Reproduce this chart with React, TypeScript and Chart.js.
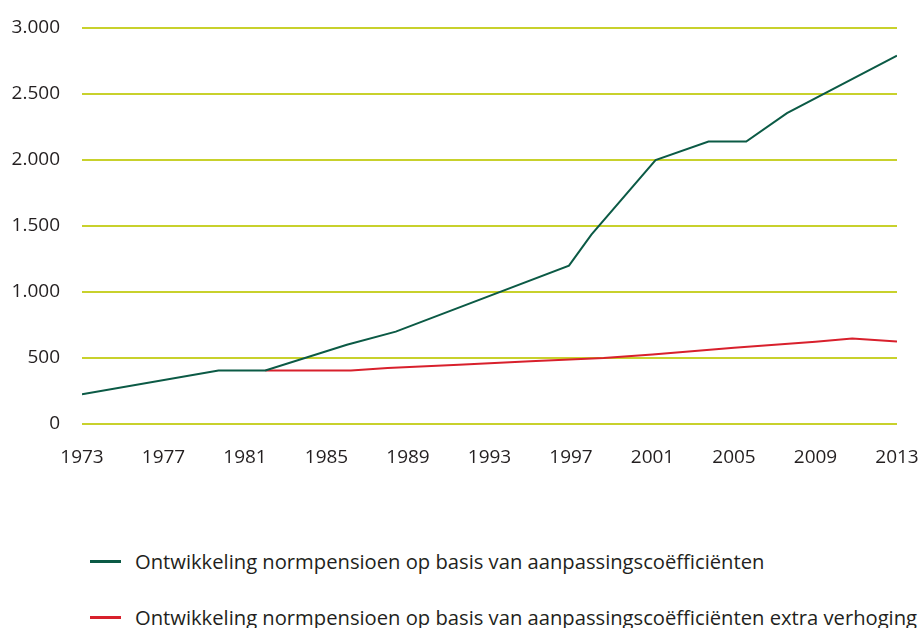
import React, { useEffect, useRef } from "react";
import { Chart, registerables } from "chart.js";

Chart.register(...registerables);

const greenYears = [1973, 1979.7, 1982, 1986, 1988.4, 1996.9, 1998, 2001.15, 2003.75, 2005.6, 2007.6, 2013];
const greenValues = [225, 405, 405, 600, 700, 1200, 1435, 2000, 2140, 2140, 2355, 2790];

const redYears = [1982, 1986.2, 1988, 1991.5, 1995, 1998.6, 2001, 2005, 2009, 2010.8, 2013];
const redValues = [405, 405, 425, 448, 475, 500, 527, 578, 624, 648, 625];

const xTicks = [1973, 1977, 1981, 1985, 1989, 1993, 1997, 2001, 2005, 2009, 2013];
const yTicks = [0, 500, 1000, 1500, 2000, 2500, 3000];

const seriesLabels = [
  "Ontwikkeling normpensioen op basis van aanpassingscoëfficiënten",
  "Ontwikkeling normpensioen op basis van aanpassingscoëfficiënten extra verhoging",
];
const seriesColors = ["#0b5a45", "#d8202c"];
const gridColor = "#c8d12c";
const textColor = "#231f20";
const fontFamily = "'Open Sans', 'Noto Sans', sans-serif";

function fmtNl(v: number): string {
  const s = String(Math.round(v));
  return s.replace(/\B(?=(\d{3})+(?!\d))/g, ".");
}

export default function App() {
  const ref = useRef<HTMLCanvasElement | null>(null);

  useEffect(() => {
    if (!ref.current) return;
    const chart = new Chart(ref.current, {
      type: "line",
      data: {
        datasets: [
          {
            label: seriesLabels[0],
            data: greenYears.map((x, i) => ({ x, y: greenValues[i] })),
            borderColor: seriesColors[0],
            backgroundColor: seriesColors[0],
            borderWidth: 2,
            pointRadius: 0,
            tension: 0,
          },
          {
            label: seriesLabels[1],
            data: redYears.map((x, i) => ({ x, y: redValues[i] })),
            borderColor: seriesColors[1],
            backgroundColor: seriesColors[1],
            borderWidth: 2,
            pointRadius: 0,
            tension: 0,
          },
        ],
      },
      options: {
        animation: false,
        responsive: false,
        maintainAspectRatio: false,
        events: [],
        layout: { padding: { top: 28, right: 25, left: 0, bottom: 0 } },
        plugins: { legend: { display: false }, tooltip: { enabled: false } },
        scales: {
          x: {
            type: "linear",
            min: 1973,
            max: 2013,
            afterBuildTicks: (scale: any) => {
              scale.ticks = xTicks.map((v) => ({ value: v }));
            },
            afterFit: (scale: any) => {
              scale.height = 46;
              scale.paddingLeft = 0;
              scale.paddingRight = 0;
            },
            grid: { display: false, drawTicks: false },
            border: { display: false },
            ticks: {
              padding: 22,
              maxRotation: 0,
              autoSkip: false,
              color: textColor,
              font: { family: fontFamily, size: 19 },
              callback: (v: any) => String(v),
            },
          },
          y: {
            min: 0,
            max: 3000,
            afterBuildTicks: (scale: any) => {
              scale.ticks = yTicks.map((v) => ({ value: v }));
            },
            afterFit: (scale: any) => {
              scale.width = 82;
              scale.paddingTop = 0;
              scale.paddingBottom = 0;
            },
            grid: { color: gridColor, lineWidth: 2, drawTicks: false },
            border: { display: false },
            ticks: {
              padding: 22,
              color: textColor,
              font: { family: fontFamily, size: 19 },
              callback: (v: any) => fmtNl(Number(v)),
            },
          },
        },
      },
    });
    return () => chart.destroy();
  }, []);

  const legendTops = [561, 617];

  return (
    <div
      style={{
        position: "fixed",
        left: 0,
        top: 0,
        width: 922,
        height: 628,
        background: "#ffffff",
        overflow: "hidden",
      }}
    >
      <canvas ref={ref} width={922} height={470} style={{ display: "block", width: 922, height: 470 }} />
      {seriesLabels.map((label, i) => (
        <div
          key={i}
          style={{
            position: "absolute",
            left: 90,
            top: legendTops[i] - 15,
            height: 30,
            display: "flex",
            alignItems: "center",
            whiteSpace: "nowrap",
            fontFamily,
            fontSize: 20.2,
            color: textColor,
          }}
        >
          <span style={{ display: "inline-block", width: 31, height: 3, background: seriesColors[i], marginRight: 14 }} />
          <span>{label}</span>
        </div>
      ))}
    </div>
  );
}
